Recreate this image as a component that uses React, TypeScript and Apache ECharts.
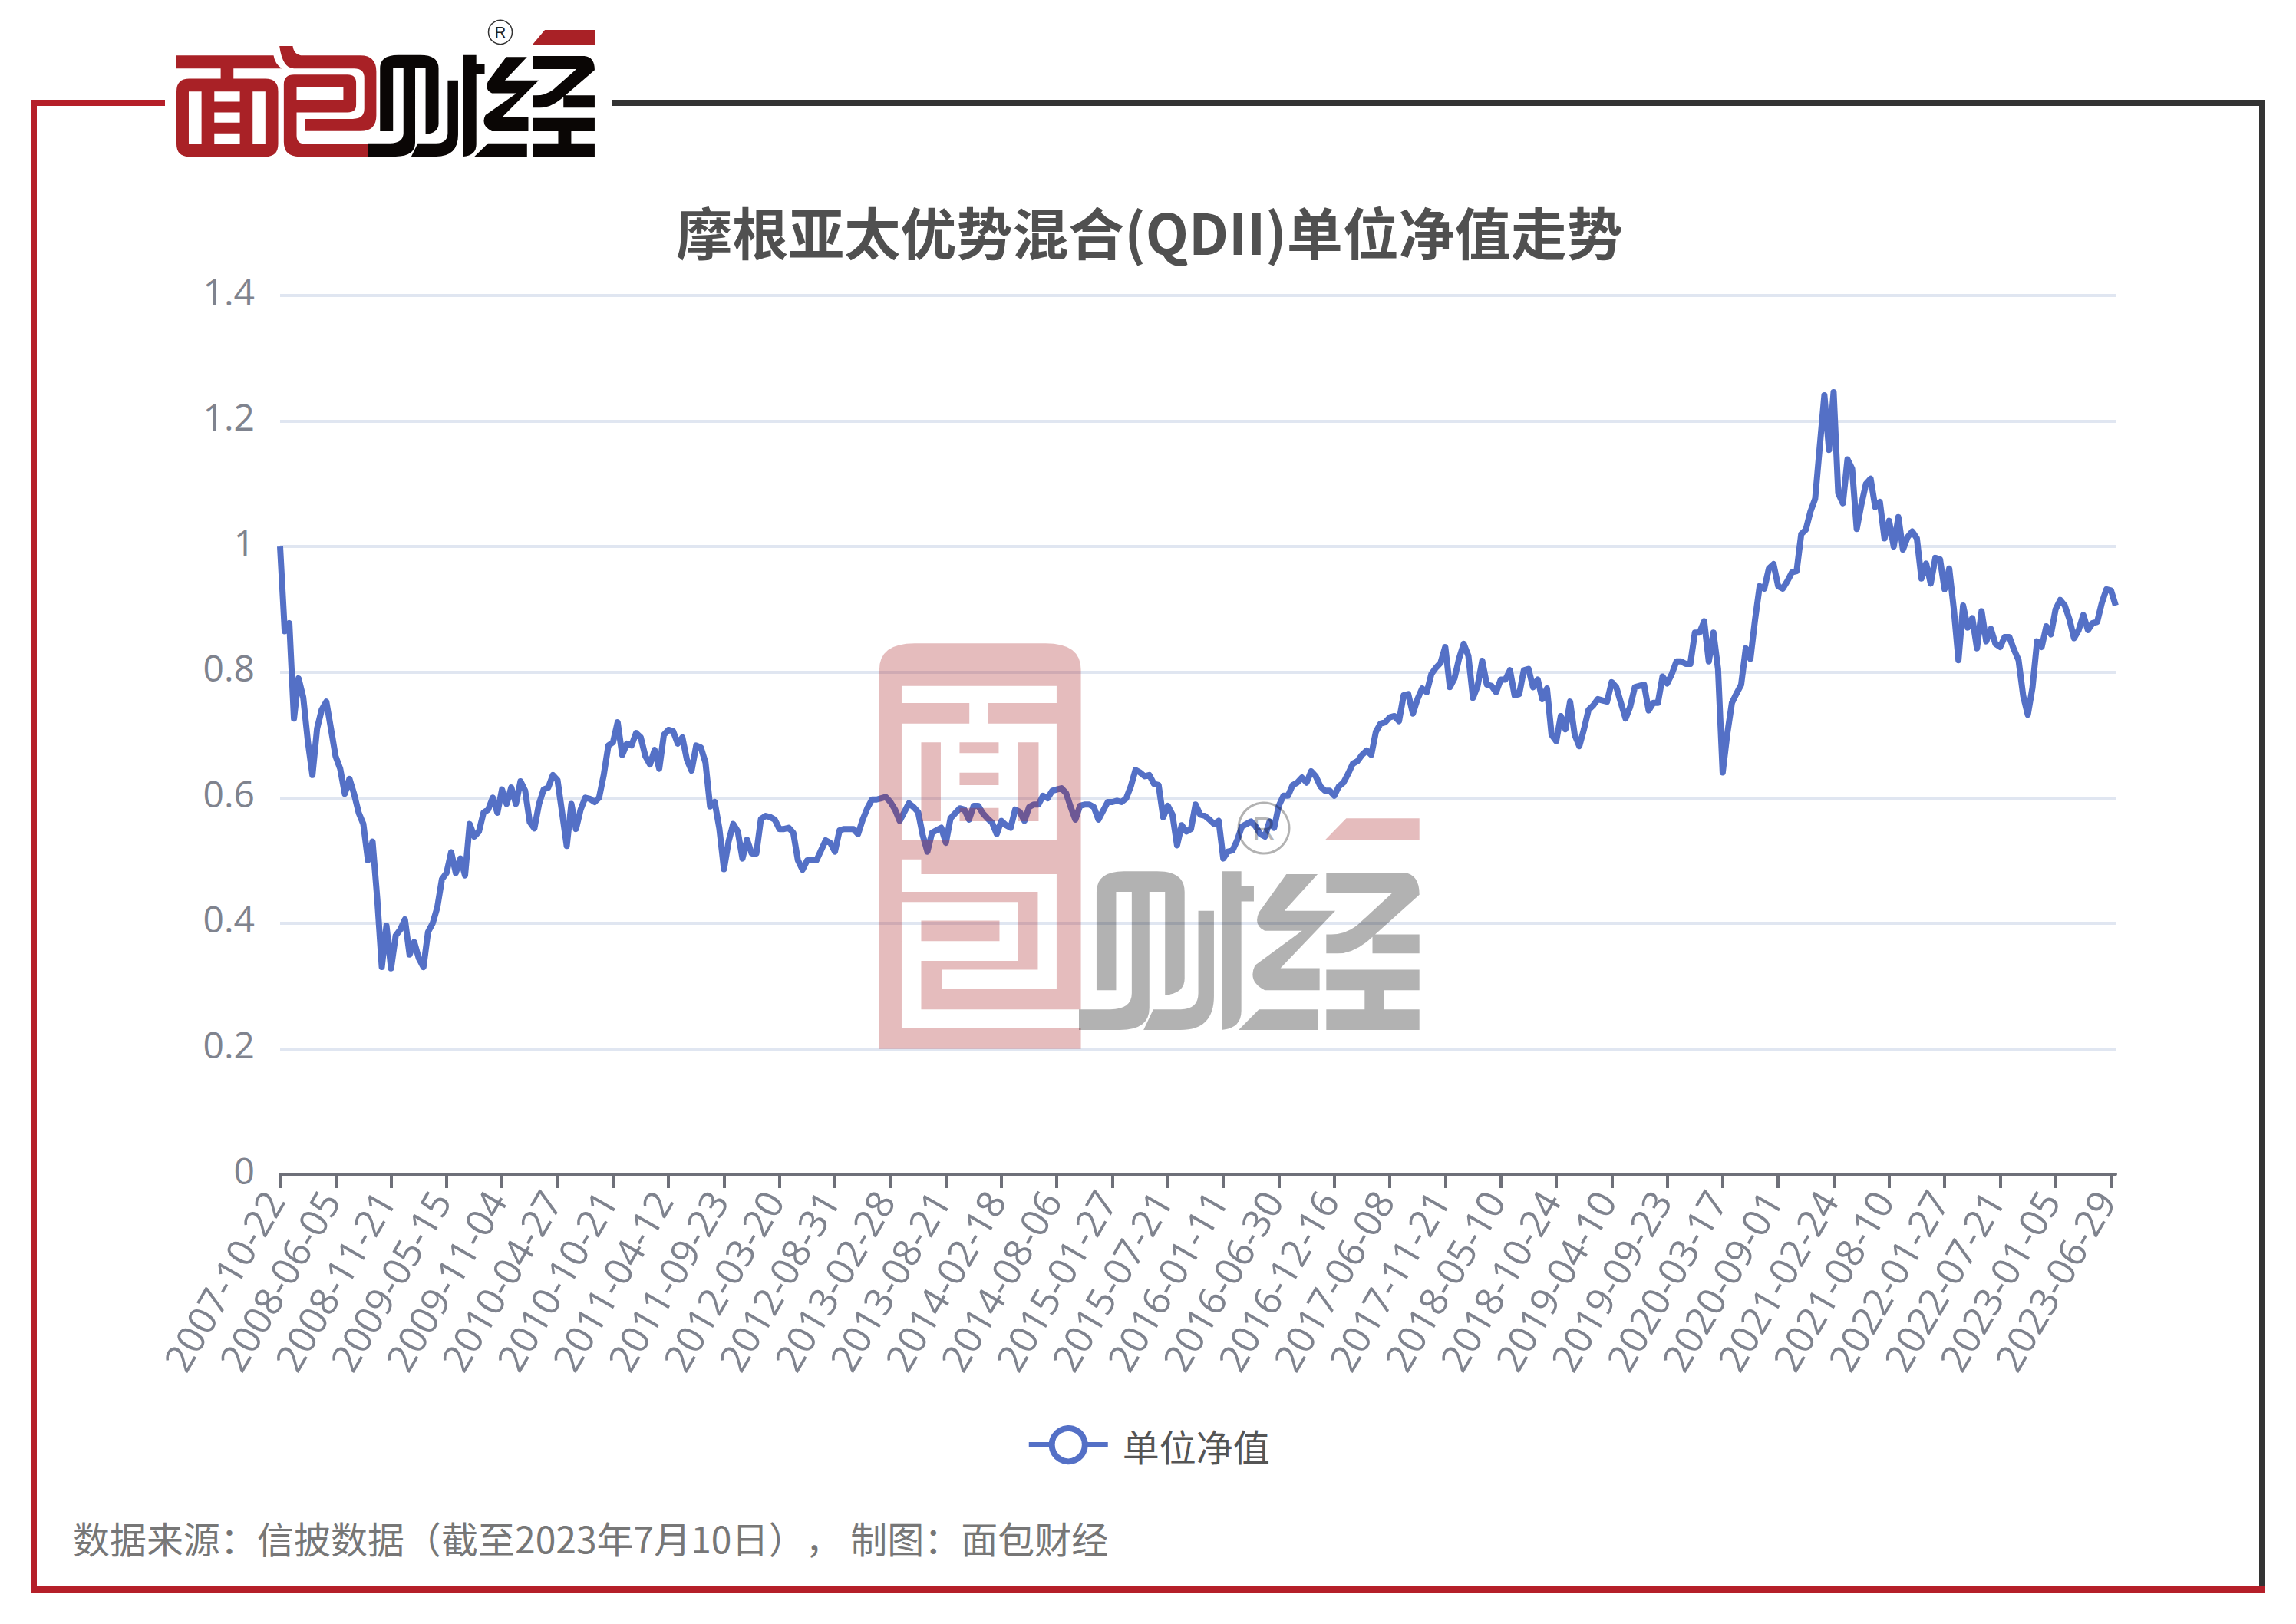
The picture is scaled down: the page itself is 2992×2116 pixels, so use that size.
import React, { useEffect, useRef } from "react";
import * as echarts from "echarts";

const tickDates = [
  "2007-10-22","2008-06-05","2008-11-21","2009-05-15","2009-11-04","2010-04-27","2010-10-21","2011-04-12","2011-09-23",
  "2012-03-20","2012-08-31","2013-02-28","2013-08-21","2014-02-18","2014-08-06","2015-01-27","2015-07-21","2016-01-11",
  "2016-06-30","2016-12-16","2017-06-08","2017-11-21","2018-05-10","2018-10-24","2019-04-10","2019-09-23","2020-03-17",
  "2020-09-01","2021-02-24","2021-08-10","2022-01-27","2022-07-21","2023-01-05","2023-06-29",
];
const POINTS_PER_TICK = 12;

const nav2007to2011 = [
  1.0,.865,.878,.726,.79,.76,.69,.636,.71,.74,.753,.71,.666,.646,.606,.63,.606,.576,.558,.5,
  .53,.44,.33,.396,.328,.38,.39,.406,.35,.37,.344,.33,.386,.4,.425,.47,.48,.513,.48,.503,
  .476,.558,.538,.546,.576,.581,.6,.576,.613,.59,.616,.59,.626,.611,.561,.551,.59,.613,.616,.636,
  .628,.576,.523,.59,.55,.581,.6,.598,.593,.6,.636,.683,.688,.72,.668,.686,.683,.703,.696,.666,
  .653,.676,.646,.7,.708,.706,.686,.696,.66,.643,.683,.68,.656,.586,.593,.551,.486,.53,.558,.546,
  .503,.533,.511,.511,.566,.571,
];
const nav2012to2014 = [
  .569,.565,.55,.55,.552,.544,.5,.485,.5,.501,.5,.516,.532,.528,.514,.548,.55,.55,.55,.542,
  .565,.583,.597,.597,.599,.601,.593,.581,.563,.577,.591,.585,.577,.54,.514,.544,.548,.552,.528,.567,
  .575,.583,.581,.565,.587,.587,.575,.567,.56,.542,.563,.556,.552,.581,.577,.563,.585,.589,.589,.603,
  .599,.611,.613,.615,.607,.585,
];
const nav2015to2017 = [
  .565,.587,.589,.589,.585,.565,.579,.593,.593,.595,.593,.599,.618,.644,.64,.634,.636,.622,.62,.569,
  .587,.573,.524,.556,.546,.55,.589,.573,.571,.565,.558,.563,.503,.514,.516,.532,.554,.558,.562,.554,
  .542,.538,.562,.552,.587,.603,.603,.62,.624,.632,.624,.642,.634,.618,.611,.611,.603,.618,.624,.638,
  .654,.658,.668,.675,
];
const nav2017to2020 = [
  .668,.705,.718,.72,.728,.73,.722,.763,.765,.734,.757,.774,.768,.797,.807,.815,.84,.776,.79,.822,
  .845,.826,.759,.778,.818,.78,.778,.768,.788,.788,.803,.763,.765,.803,.805,.776,.788,.757,.774,.7,
  .69,.73,.709,.753,.7,.682,.709,.74,.747,.757,.755,.753,.784,.776,.751,.726,.745,.776,
];
const nav2020to2021 = [
  .778,.78,.739,.751,.751,.793,.782,.797,.817,.817,.813,.813,.863,.863,.881,.817,.863,.805,.64,.702,
  .751,.766,.78,.838,.821,.883,.937,.933,.965,.972,.937,.933,.945,.959,.961,1.02,1.027,1.056,
];
const nav2021to2023 = [
  1.076,1.159,1.241,1.154,1.246,1.085,1.069,1.139,1.124,1.028,1.067,1.1,1.108,1.063,1.071,1.013,1.041,1.0,1.047,.995,
  1.015,1.024,1.013,.949,.973,.941,.982,.98,.932,.965,.9,.819,.906,.871,.886,.838,.897,.849,.869,.845,
  .84,.856,.856,.836,.819,.762,.732,.775,.849,.84,.873,.86,.9,.915,.906,.884,.854,.867,.891,.867,
  .878,.88,.91,.932,.93,.906,
];
const navValues = [...nav2007to2011, ...nav2012to2014, ...nav2015to2017, ...nav2017to2020, ...nav2020to2021, ...nav2021to2023];
const categories = navValues.map((_, i) => (i % POINTS_PER_TICK === 0 ? tickDates[i / POINTS_PER_TICK] ?? "" : ""));

const titleText = "摩根亚太优势混合(QDII)单位净值走势";
const seriesName = "单位净值";
const sourceText = "数据来源：信披数据（截至2023年7月10日）， 制图：面包财经";

const RED = "#a92126";
const LINE = "#5470c6";

const mianBaoPath =
  "M30 127 H410 Q415 160 442 178 H30 Z M203 178 H253 V218 H203 Z " +
  "M30 268 Q30 218 80 218 H378 Q428 218 428 268 Z M30 268 H78 V473 H30 Z M378 268 H428 V473 H378 Z " +
  "M30 473 H428 Q428 523 378 523 H80 Q30 523 30 473 Z M128 268 H178 V473 H128 Z M278 268 H328 V473 H278 Z " +
  "M178 308 H278 V350 H178 Z M178 390 H278 V432 H178 Z " +
  "M433 90 H485 Q490 127 525 127 H750 Q812 127 812 190 V362 Q812 423 750 423 H533 V375 H720 Q765 375 765 335 V215 Q765 178 725 178 H490 Q445 178 433 90 Z " +
  "M450 240 Q450 202 490 202 H700 Q733 202 733 235 V320 Q733 350 700 350 H500 V440 Q500 473 533 473 H800 V523 H510 Q450 523 450 465 Z " +
  "M500 250 V300 H683 V250 Z";

const caiJingPath =
  "M645 1280 V945 Q645 875 715 875 H800 Q870 875 870 945 V1240 Q870 1290 820 1297 V945 H780 V1340 Q780 1415 705 1415 H600 V1345 H680 Q735 1345 735 1290 V945 H695 V1280 Z " +
  "M905 1010 H945 V1300 Q945 1415 860 1415 H765 L790 1345 H860 Q905 1345 905 1290 Z " +
  "M965 875 H1015 V925 H1047 V978 H1015 V1350 Q1015 1410 965 1415 Z " +
  "M1130 885 H1210 L1125 1010 H1255 L1115 1205 H1215 V1280 H1075 Q1030 1250 1050 1195 L1170 1078 H1075 Q1045 1060 1060 1015 Z " +
  "M1060 1345 H1210 V1415 H1008 Z " +
  "M1232 880 H1430 Q1470 885 1470 955 L1340 1110 Q1300 1155 1260 1155 H1232 V1090 H1245 Q1280 1090 1310 1060 L1400 950 H1232 Z " +
  "M1350 1090 H1470 V1155 H1350 Z " +
  "M1232 1210 H1470 V1280 H1380 V1345 H1470 V1415 H1232 V1345 H1330 V1280 H1232 Z";

const sealPath =
  "M90 245 V190 Q90 100 180 100 H515 Q605 100 605 190 V245 Z M90 245 H147 V1480 H90 Z M543 245 H605 V1345 H543 Z " +
  "M147 303 H320 V373 H147 Z M367 303 H543 V373 H367 Z " +
  "M197 437 H247 V705 H197 Z M445 437 H497 V705 H445 Z M295 437 H395 V473 H295 Z M295 540 H395 V582 H295 Z M295 660 H395 V705 H295 Z " +
  "M147 770 H543 V835 H147 Z M197 835 H543 V885 H197 Z " +
  "M147 945 H495 V980 H147 Z M445 980 H495 V1210 H445 Z M197 1043 H397 V1113 H197 Z " +
  "M197 1180 H445 V1210 H197 Z M197 1210 H250 V1275 H197 Z M197 1275 H605 V1345 H197 Z M90 1410 H605 V1480 H90 Z " +
  "M1283 695 H1470 V770 H1228 Z";

echarts.graphic.registerShape("logoMianBao", echarts.graphic.extendPath(mianBaoPath, {}));
echarts.graphic.registerShape("logoCaiJing", echarts.graphic.extendPath(caiJingPath, {}));
echarts.graphic.registerShape("logoSeal", echarts.graphic.extendPath(sealPath, {}));

const rect = (x: number, y: number, width: number, height: number, fill: string) => ({
  type: "rect", shape: { x, y, width, height }, style: { fill }, z: 50, silent: true,
});

export default function App() {
  const ref = useRef<HTMLDivElement>(null);
  useEffect(() => {
    document.body.style.margin = "0";
    const chart = echarts.init(ref.current!, undefined, { renderer: "svg" });
    const cjk = '"Noto Sans CJK SC","Noto Sans",sans-serif';
    chart.setOption({
      animation: false,
      backgroundColor: "#ffffff",
      title: {
        text: titleText, left: 1493, textAlign: "center", top: 258,
        textStyle: { fontFamily: cjk, fontSize: 73, fontWeight: "bold", color: "#505050" },
      },
      legend: {
        left: "center", top: 1852, itemWidth: 103, itemHeight: 54,
        data: [{
          name: seriesName,
          itemStyle: { color: "#ffffff", borderColor: LINE, borderWidth: 8 },
          lineStyle: { color: LINE, width: 7 },
        }],
        textStyle: { fontFamily: cjk, fontSize: 48, color: "#555555", padding: [0, 0, 0, 14] },
      },
      grid: { left: 365, right: 2992 - 2757, top: 385, height: 1145 },
      xAxis: {
        type: "category", data: categories, boundaryGap: false,
        axisLine: { lineStyle: { color: "#6e7079", width: 4 } },
        axisTick: { interval: POINTS_PER_TICK - 1, length: 18, lineStyle: { color: "#6e7079", width: 4 } },
        axisLabel: {
          interval: POINTS_PER_TICK - 1, rotate: 60, margin: 12, padding: [0, 16, 0, 0], fontFamily: '"Open Sans",sans-serif',
          fontSize: 50, color: "#7f838e",
        },
      },
      yAxis: {
        type: "value", min: 0, max: 1.4, interval: 0.2,
        axisLine: { show: false }, axisTick: { show: false },
        axisLabel: { margin: 33, verticalAlign: "bottom", lineHeight: 12, fontFamily: '"Open Sans",sans-serif', fontSize: 48, color: "#7f838e" },
        splitLine: { lineStyle: { color: "#e0e6f1", width: 4 } },
      },
      series: [{
        name: seriesName, type: "line", data: navValues, symbol: "circle", showSymbol: false,
        lineStyle: { color: LINE, width: 8, join: "round" }, itemStyle: { color: LINE },
      }],
      graphic: [
        rect(40, 130, 8, 1945, "#b51f29"),
        rect(40, 130, 175, 8, "#b51f29"),
        rect(797, 130, 2155, 8, "#333333"),
        rect(2944, 130, 8, 1940, "#333333"),
        rect(40, 2067, 2912, 8, "#b51f29"),
        { type: "logoMianBao", x: 220, y: 30, scaleX: 1 / 3, scaleY: 1 / 3, style: { fill: RED }, z: 50, silent: true },
        { type: "logoCaiJing", x: 276.6, y: -142.7, scaleX: 0.339, scaleY: 0.245, style: { fill: "#0a0605" }, z: 51, silent: true },
        { type: "polygon", shape: { points: [[710, 39], [775, 39], [775, 58], [694, 58]] }, style: { fill: RED }, z: 50, silent: true },
        { type: "circle", shape: { cx: 652, cy: 42, r: 15.5 }, style: { fill: "none", stroke: "#333333", lineWidth: 1.5 }, z: 50, silent: true },
        { type: "text", x: 652, y: 42, style: { text: "R", fontSize: 20, fontFamily: '"Liberation Sans",sans-serif', fill: "#222222", align: "center", verticalAlign: "middle" }, z: 50, silent: true },
        { type: "logoSeal", x: 1100, y: 800, scaleX: 0.5102, scaleY: 0.3827, style: { fill: "rgba(169,33,38,0.3)" }, z: 60, silent: true },
        { type: "logoCaiJing", x: 1100, y: 800, scaleX: 0.5102, scaleY: 0.3827, style: { fill: "rgba(0,0,0,0.3)" }, z: 60, silent: true },
        { type: "circle", shape: { cx: 1647, cy: 1079, r: 33 }, style: { fill: "none", stroke: "rgba(0,0,0,0.3)", lineWidth: 3 }, z: 60, silent: true },
        { type: "text", x: 1647, y: 1079, style: { text: "R", fontSize: 42, fontFamily: '"Liberation Sans",sans-serif', fill: "rgba(0,0,0,0.3)", align: "center", verticalAlign: "middle" }, z: 60, silent: true },
        { type: "text", x: 95, y: 2003, style: { text: sourceText, fontSize: 48, fontFamily: cjk, fill: "#777777", verticalAlign: "middle" }, z: 50, silent: true },
      ],
    });
    return () => chart.dispose();
  }, []);
  return <div ref={ref} style={{ width: 2992, height: 2116, textSpacingTrim: "space-all" } as React.CSSProperties} />;
}
